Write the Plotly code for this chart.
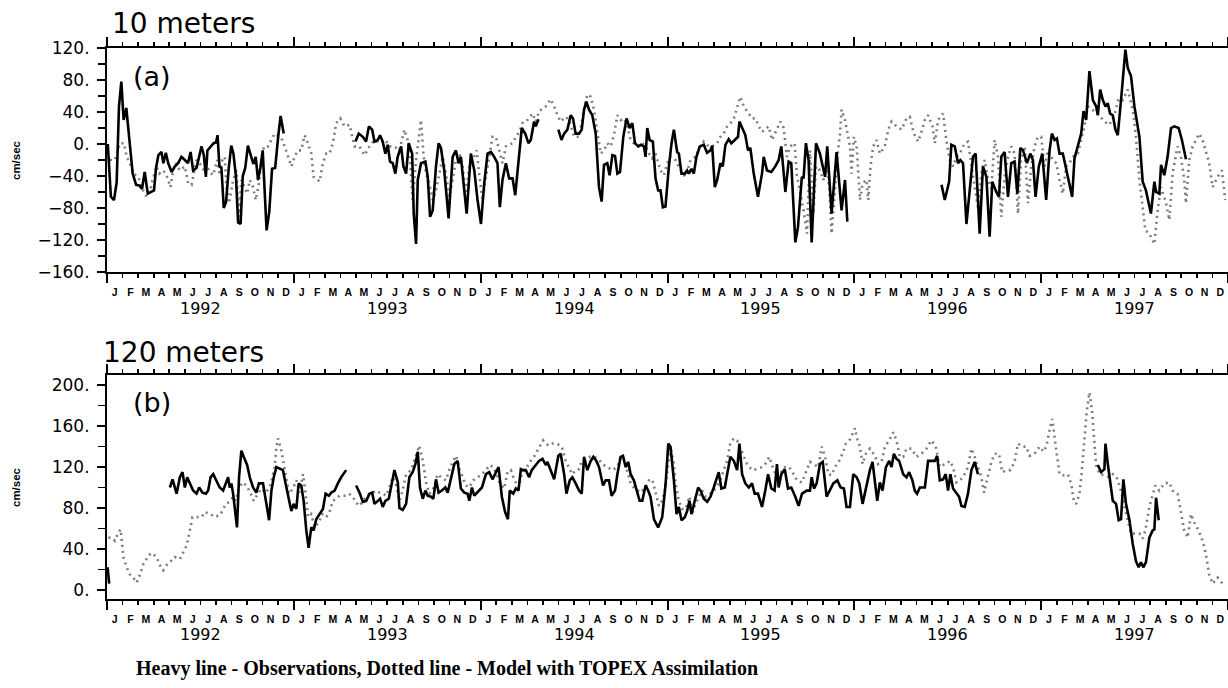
import plotly.graph_objects as go

# ---------------- data (time in months since 1 Jan 1992) ----------------
months = ["J", "F", "M", "A", "M", "J", "J", "A", "S", "O", "N", "D"]
years = ["1992", "1993", "1994", "1995", "1996", "1997"]

# Panel (a) 10 m, observations (heavy line); None = gap
obsA_t = [0.05,0.25,0.45,0.62,0.77,0.92,1.07,1.24,1.45,1.65,1.87,2.08,2.25,2.42,2.62,2.85,3.02,3.15,3.3,3.5,3.62,3.78,3.93,4.15,4.36,4.57,4.78,5.0,5.2,5.37,5.53,5.75,5.92,6.07,6.22,6.35,6.45,6.65,6.85,7.0,7.1,7.22,7.35,7.5,7.65,7.82,7.98,8.12,8.28,8.42,8.58,8.72,8.88,9.05,9.22,9.4,9.55,9.7,9.85,10.0,10.25,10.42,10.6,10.8,11.0,11.15,11.35,
          None,
          15.96,16.17,16.43,16.64,16.82,17.03,17.18,17.39,17.54,17.71,17.88,18.03,18.18,18.35,18.52,18.67,18.89,19.04,19.21,19.38,19.6,19.7,19.85,19.96,20.17,20.45,20.6,20.75,20.92,21.13,21.3,21.45,21.66,21.94,22.2,22.41,22.58,22.73,22.88,23.1,23.37,23.59,23.8,24.02,24.23,24.44,24.66,24.87,25.08,25.23,25.4,25.62,25.83,26.05,26.22,26.43,26.64,26.86,27.07,27.22,27.43,27.54,27.71,
          None,
          28.99,29.19,29.36,29.57,29.78,29.93,30.1,30.32,30.49,30.64,30.79,30.96,31.17,31.39,31.6,31.77,31.92,32.13,32.28,32.46,32.63,32.78,32.95,33.16,33.37,33.57,33.74,33.91,34.12,34.29,34.49,34.59,34.7,34.85,35.06,35.23,35.4,35.55,35.7,35.87,36.09,36.26,36.41,36.62,36.73,36.9,37.11,37.26,37.37,37.54,37.69,37.86,38.07,38.33,38.54,38.76,38.87,39.04,39.19,39.4,39.55,39.72,39.93,40.1,40.32,40.53,40.62,40.79,41.0,41.17,41.32,41.54,41.81,42.07,42.18,42.39,42.67,42.92,43.14,43.31,43.57,43.78,43.95,44.21,44.38,44.63,44.74,44.89,45.06,45.26,45.54,45.79,46.12,46.26,46.54,46.86,47.18,47.4,47.55,
          None,
          53.6,53.81,54.09,54.23,54.45,54.66,54.81,54.98,55.2,55.41,55.62,55.79,56.05,56.26,56.48,56.69,56.86,57.12,57.29,57.44,57.65,57.87,58.08,58.29,58.47,58.66,58.83,59.09,59.3,59.47,59.64,59.85,60.07,60.32,60.54,60.69,60.86,61.01,61.18,61.39,61.71,61.99,62.14,62.35,62.57,62.72,62.89,63.1,63.32,63.53,63.64,63.79,63.96,64.13,64.28,64.43,64.6,64.77,64.92,65.13,65.41,65.56,65.77,65.99,66.31,66.52,66.73,67.05,67.27,67.38,67.59,67.7,67.91,68.12,68.34,68.55,68.83,69.04,69.3]
obsA_v = [0,-66,-70,-48,47,78,30,45,3,-37,-51,-52,-56,-35,-62,-60,-58,-30,-14,-10,-24,-11,-24,-35,-28,-24,-16,-20,-24,-10,-33,-30,-16,-3,-14,-41,-8,-3,1,2,11,-28,-30,-80,-72,-30,-2,-12,-40,-98,-100,-40,-30,-2,-12,-25,-16,-45,-30,-8,-108,-85,-31,-30,10,35,13,
          None,
          3,13,9,3,22,18,3,5,11,3,-12,-1,-22,-24,-37,-16,-3,-28,-37,1,-12,-87,-125,-45,-24,-22,-41,-91,-83,-28,1,-5,-33,-93,-16,-8,-24,-16,-45,-87,-12,-33,-70,-100,-49,-12,-10,-16,-24,-79,-45,-24,-43,-43,-64,-20,20,13,1,5,28,22,31,
          None,
          18,5,13,18,36,32,13,13,18,43,53,43,36,13,-54,-72,-26,-24,-39,-14,-15,-37,-35,9,32,20,26,1,-3,-1,-3,-16,20,5,3,-43,-58,-58,-79,-78,-28,1,18,-10,-12,-37,-37,-33,-37,-31,-37,-16,-3,-1,-11,-8,-2,-54,-45,-24,-28,-1,6,1,5,9,28,20,11,-8,-5,-37,-66,-37,-16,-33,-35,-28,-20,-3,-60,-22,-24,-123,-104,-41,-43,1,-20,-123,1,-12,-41,-3,-87,-10,-83,-45,-97,
          None,
          -51,-70,-47,-1,-3,-24,-20,-24,-100,-62,-16,-12,-112,-28,-41,-116,-47,-60,-66,-16,-10,-66,-24,-22,-62,-5,-8,-24,-12,-20,-66,-28,-12,-70,-8,13,5,7,-12,-12,-41,-66,-18,-3,13,41,30,91,55,47,36,68,55,47,51,38,36,18,11,55,118,95,85,47,9,-47,-58,-87,-47,-60,-62,-26,-39,-16,20,22,20,5,-19]

# Panel (a) 10 m, model with TOPEX assimilation (dotted line)
modA_t = [0.19,0.51,0.83,1.09,1.26,1.47,1.69,2.01,2.22,2.54,2.76,2.93,3.18,3.35,3.61,3.82,4.08,4.25,4.42,4.68,5.0,5.21,5.43,5.75,5.96,6.22,6.39,6.6,6.82,7.07,7.24,7.41,7.56,7.67,7.84,8.1,8.31,8.48,8.63,8.85,9.0,9.17,9.38,9.55,9.76,9.91,10.08,10.34,10.55,10.77,11.09,11.26,11.41,11.62,11.84,12.05,12.26,12.48,12.69,12.9,13.12,13.27,13.44,13.65,13.87,14.08,14.29,14.51,14.72,14.98,15.26,15.58,15.9,16.22,16.54,16.86,17.18,17.5,17.88,18.14,18.46,18.78,19.1,19.31,19.46,19.63,19.85,20.06,20.17,20.32,20.49,20.7,20.92,21.13,21.34,21.56,21.77,21.98,22.2,22.41,22.63,22.84,23.05,23.27,23.48,23.74,23.91,24.12,24.34,24.55,24.76,24.98,25.19,25.4,25.62,25.83,26.05,26.26,26.47,26.73,27.01,27.33,27.54,27.75,28.18,28.5,28.72,28.93,29.14,29.46,29.68,30.0,30.32,30.64,30.85,31.07,31.28,31.49,31.71,31.92,32.13,32.35,32.56,32.78,32.99,33.2,33.42,33.63,33.84,34.12,34.38,34.59,34.81,35.02,35.23,35.55,35.77,35.98,36.19,36.51,36.84,37.16,37.48,37.8,38.12,38.33,38.65,38.87,39.19,39.4,39.61,39.83,40.04,40.26,40.47,40.68,40.9,41.22,41.43,41.64,41.86,42.07,42.28,42.5,42.71,43.03,43.25,43.46,43.67,43.89,44.16,44.31,44.53,44.74,44.96,45.15,45.37,45.54,45.79,46.01,46.22,46.39,46.54,46.69,46.91,47.08,47.18,47.4,47.55,47.72,47.82,47.97,48.15,48.36,48.53,48.79,48.89,49.04,49.21,49.43,49.64,49.96,50.18,50.39,50.71,51.03,51.35,51.56,51.82,52.1,52.31,52.53,52.74,53.02,53.17,53.38,53.59,53.7,53.91,54.13,54.34,54.56,54.77,55.09,55.3,55.52,55.73,55.94,56.16,56.37,56.59,56.8,57.01,57.23,57.44,57.65,57.87,58.08,58.29,58.51,58.72,58.94,59.15,59.36,59.58,59.79,60.0,60.22,60.43,60.75,60.97,61.18,61.39,61.61,61.82,62.03,62.35,62.57,62.78,63.0,63.27,63.53,63.74,64.06,64.38,64.7,64.98,65.24,65.56,65.88,66.09,66.31,66.52,66.69,66.95,67.27,67.48,67.7,68.02,68.23,68.44,68.76,68.98,69.19,69.3,69.51,69.73,69.94,70.15,70.37,70.58,70.79,71.01,71.33,71.61,71.82]
modA_v = [-20,-20,1,1,-16,-24,-37,-41,-54,-66,-60,-45,-28,-37,-33,-39,-54,-33,-24,-33,-28,-49,-51,-20,-24,-33,-26,-35,-39,-20,-39,-20,-16,-54,-74,-45,-33,-91,-45,-54,-62,-45,-54,-70,-49,-20,-3,-3,5,13,9,5,-3,-16,-28,-16,-8,-8,11,1,-12,-41,-43,-47,-24,-12,-12,1,26,32,22,24,-3,-3,-14,-3,5,1,5,-3,-3,-8,18,5,-20,-70,-20,13,30,-12,-37,-49,-70,-58,-37,-16,-37,-66,-45,-20,-12,-28,-66,-28,-20,-8,-39,-70,-41,-16,9,9,-8,-24,-3,-1,1,9,15,28,30,38,28,41,47,56,47,36,28,34,30,9,9,43,62,59,43,15,-12,-8,1,-3,11,36,30,32,22,5,1,-3,1,-3,-12,-18,-12,-33,-39,-24,-16,-20,-33,-41,-20,-16,-3,3,-3,-3,1,9,13,22,26,32,47,59,47,38,32,32,22,15,18,22,5,18,28,20,-16,-3,1,-39,-62,-83,-112,-8,-87,-28,-33,-45,-28,-54,-112,-70,-16,13,43,30,13,-3,-37,9,-3,-70,-49,-45,-70,-28,-3,5,-12,-3,18,28,22,18,32,34,13,3,15,30,36,22,1,30,36,38,5,-20,-28,-16,-12,1,3,-28,-54,-79,-37,-20,-45,-56,5,-16,-91,-41,-16,-3,-12,-87,-16,-3,-74,-28,-3,9,9,-28,-8,-20,-24,-45,-62,-28,-24,-16,-12,5,22,47,43,38,36,28,24,36,57,55,68,43,9,-45,-79,-108,-112,-125,-83,-54,-74,-95,-37,-3,-16,-45,-74,-20,-3,5,13,5,-8,-24,-54,-41,-33,-70]

# Panel (b) 120 m, observations (heavy line)
obsB_t = [0.04,0.14,
          None,
          4.04,4.21,4.47,4.68,4.85,5.0,5.15,5.32,5.53,5.75,5.92,6.13,6.35,6.5,6.65,6.82,7.03,7.24,7.46,7.63,7.78,7.88,7.99,8.1,8.27,8.35,8.48,8.63,8.78,9.0,9.17,9.38,9.59,9.76,10.02,10.19,10.41,10.56,10.71,10.88,11.13,11.3,11.47,11.65,11.84,11.99,12.16,12.31,12.48,12.63,12.8,12.95,13.12,13.27,13.44,13.65,13.87,14.04,14.25,14.4,14.62,14.83,15.04,15.36,
          None,
          16.0,16.22,16.43,16.65,16.86,17.03,17.18,17.39,17.54,17.71,17.88,18.1,18.31,18.46,18.68,18.78,18.99,19.21,19.42,19.63,19.81,19.96,20.1,20.28,20.45,20.6,20.81,20.96,21.13,21.3,21.51,21.73,21.88,22.09,22.31,22.52,22.73,22.95,23.16,23.27,23.44,23.59,23.91,24.08,24.34,24.55,24.76,24.98,25.15,25.36,25.57,25.75,25.87,26.09,26.26,26.43,26.58,26.73,26.9,27.11,27.28,27.54,27.75,27.97,28.18,28.29,28.5,28.72,28.99,29.14,29.36,29.51,29.72,29.89,30.1,30.32,30.49,30.64,30.85,31.07,31.24,31.43,31.6,31.86,32.03,32.24,32.41,32.63,32.78,32.99,33.14,33.31,33.48,33.63,33.84,34.06,34.21,34.38,34.59,34.76,34.91,35.13,35.4,35.66,35.87,36.05,36.19,36.41,36.58,36.73,36.9,37.11,37.26,37.41,37.54,37.75,37.97,38.12,38.33,38.55,38.76,38.97,39.19,39.29,39.46,39.68,39.83,40.04,40.26,40.47,40.62,40.79,41.0,41.22,41.43,41.6,41.81,42.07,42.28,42.46,42.67,42.88,43.03,43.14,43.31,43.53,43.74,43.95,44.21,44.42,44.64,44.94,45.15,45.26,45.41,45.58,45.79,45.97,46.22,46.44,46.65,46.91,47.12,47.33,47.5,47.72,47.93,48.15,48.32,48.53,48.74,49.0,49.17,49.32,49.47,49.64,49.81,50.03,50.24,50.39,50.54,50.71,50.88,51.14,51.35,51.52,51.73,51.88,52.03,52.21,52.53,52.74,52.95,53.17,53.32,53.49,53.7,53.87,54.02,54.17,54.34,54.56,54.73,54.88,55.09,55.3,55.52,55.73,55.94,
          None,
          63.64,63.85,64.06,64.13,64.28,64.43,64.6,64.81,64.98,65.13,65.28,65.45,65.67,65.88,66.09,66.26,66.41,66.56,66.73,66.95,67.16,67.27,67.38,67.55]
obsB_v = [22,6,
          None,
          100,108,94,110,115,100,110,104,97,94,100,95,94,97,110,113,107,100,97,105,110,100,104,94,71,61,110,136,130,122,110,100,95,104,104,87,68,97,110,120,118,117,104,91,77,84,79,104,102,87,58,41,61,58,69,74,79,94,92,95,97,104,110,117,
          None,
          102,95,86,87,94,95,84,87,89,81,87,89,107,117,105,80,78,84,110,115,123,135,100,89,97,92,91,89,108,95,97,100,95,110,123,126,99,95,94,87,100,92,97,100,113,115,108,115,120,91,76,69,97,94,99,97,118,117,117,110,117,122,126,128,122,125,117,108,131,133,113,94,107,110,104,97,94,130,117,126,130,126,120,102,107,107,92,97,113,130,131,120,125,113,107,94,87,87,102,97,91,69,61,71,102,143,140,107,74,81,68,71,77,87,74,87,100,97,89,86,91,100,112,115,99,100,113,130,126,117,143,113,104,100,104,94,94,81,97,113,99,97,123,100,113,118,99,100,91,82,94,97,97,110,99,104,123,125,91,97,104,107,100,99,81,81,113,110,104,84,100,117,125,107,87,105,97,120,126,120,133,128,126,113,110,115,107,97,94,100,100,126,126,126,131,107,108,113,97,113,99,95,91,82,81,94,117,125,113,
          None,
          122,115,118,143,123,104,87,84,68,69,108,84,68,45,28,22,27,22,27,51,58,59,90,68]

# Panel (b) 120 m, model with TOPEX assimilation (dotted line)
modB_t = [0.09,0.3,0.51,0.73,0.88,1.05,1.26,1.47,1.69,1.9,2.12,2.33,2.65,2.86,3.18,3.4,3.61,3.82,4.04,4.36,4.68,4.94,5.11,5.28,5.49,5.79,6.07,6.28,6.65,6.92,7.24,7.41,7.63,7.88,8.1,8.27,8.48,8.7,8.95,9.21,9.42,9.7,9.91,10.19,10.45,10.66,10.77,10.88,10.98,11.2,11.35,11.52,11.69,11.94,12.16,12.37,12.59,12.76,12.91,13.12,13.33,13.61,13.82,14.08,14.29,14.51,14.72,14.94,15.26,15.53,15.79,16.0,16.22,16.43,16.65,16.86,17.07,17.29,17.5,17.71,17.93,18.14,18.35,18.53,18.78,18.99,19.21,19.53,19.81,20.06,20.28,20.49,20.7,20.92,21.24,21.45,21.77,21.98,22.2,22.41,22.67,22.88,23.05,23.27,23.52,23.8,24.02,24.34,24.59,24.81,25.02,25.23,25.51,25.72,25.94,26.15,26.43,26.64,26.9,27.16,27.43,27.71,28.01,28.35,28.61,28.87,29.21,29.46,29.68,29.89,30.1,30.32,30.49,30.75,31.0,31.28,31.56,31.81,32.13,32.46,32.78,32.99,33.2,33.42,33.63,33.84,34.06,34.27,34.59,34.81,35.02,35.23,35.45,35.66,35.87,36.05,36.19,36.41,36.51,36.73,36.94,37.16,37.41,37.58,37.8,38.01,38.22,38.44,38.76,39.08,39.4,39.61,39.83,40.04,40.26,40.47,40.68,40.9,41.11,41.43,41.75,42.07,42.28,42.54,42.82,43.14,43.35,43.57,43.82,44.1,44.31,44.63,44.94,45.15,45.37,45.69,45.9,46.12,46.33,46.54,46.76,47.03,47.29,47.46,47.72,48.04,48.15,48.36,48.53,48.74,49.0,49.32,49.53,49.75,49.96,50.24,50.5,50.71,50.92,51.14,51.35,51.67,51.99,52.31,52.63,52.95,53.23,53.49,53.7,53.91,54.13,54.34,54.56,54.77,54.98,55.3,55.52,55.73,55.94,56.16,56.33,56.59,56.8,57.01,57.29,57.5,57.76,58.02,58.29,58.51,58.79,59.04,59.26,59.58,59.9,60.15,60.33,60.54,60.71,60.86,61.01,61.18,61.39,61.71,61.92,62.1,62.25,62.46,62.59,62.78,62.93,63.1,63.27,63.36,63.53,63.74,64.06,64.38,64.6,64.85,65.07,65.28,65.5,65.77,66.09,66.31,66.52,66.69,66.95,67.16,67.33,67.59,67.91,68.23,68.44,68.76,68.98,69.19,69.41,69.62,69.83,70.11,70.37,70.58,70.79,71.01,71.33,71.65]
modB_v = [51,51,48,56,59,32,22,15,12,7,15,25,33,36,32,24,19,24,27,32,30,37,43,55,71,71,71,76,74,71,73,77,84,86,91,87,100,105,102,95,87,94,99,95,100,113,120,140,148,136,123,107,94,99,107,95,113,94,71,74,61,66,74,71,76,87,89,92,92,94,91,85,82,87,91,94,95,97,95,94,92,100,110,105,87,97,113,117,130,141,126,105,94,97,113,110,107,117,125,131,117,108,102,100,107,110,112,117,122,120,113,104,99,115,117,108,100,113,118,125,130,138,146,141,143,143,140,126,120,113,117,118,126,128,130,130,128,123,120,117,120,130,128,117,104,100,97,95,100,107,108,94,82,87,100,123,140,123,104,87,79,79,91,74,84,91,97,91,94,99,107,117,126,144,148,146,138,130,123,117,118,120,123,130,117,107,117,120,120,113,107,105,117,125,123,120,140,130,113,112,120,126,135,143,147,158,149,140,123,133,138,131,123,125,140,146,154,146,130,130,138,138,130,133,138,146,140,120,122,123,126,120,105,107,110,120,138,130,120,110,95,110,125,133,133,115,117,117,125,143,140,140,131,133,140,135,140,156,167,149,130,113,112,113,104,87,84,94,112,146,175,193,175,156,122,113,112,110,113,110,100,87,71,55,55,55,50,58,81,94,102,97,104,105,97,94,76,58,51,74,66,58,48,35,15,6,12,6]

# ---------------- figure ----------------
FONT = "DejaVu Sans"
W, H = 1228, 688
X0 = 107 / W
A_DOM = [1 - 272 / H, 1 - 48 / H]
B_DOM = [1 - 599 / H, 1 - 375 / H]

def py(px):
    return 1 - px / H

heavy = dict(color="black", width=2.6)
dotted = dict(color="#7c7c7c", width=2.6, dash="2px,4px")

fig = go.Figure()
fig.add_trace(go.Scatter(x=modA_t, y=modA_v, mode="lines", line=dotted, xaxis="x", yaxis="y", showlegend=False))
fig.add_trace(go.Scatter(x=obsA_t, y=obsA_v, mode="lines", line=heavy, xaxis="x", yaxis="y", showlegend=False))
fig.add_trace(go.Scatter(x=modB_t, y=modB_v, mode="lines", line=dotted, xaxis="x2", yaxis="y2", showlegend=False))
fig.add_trace(go.Scatter(x=obsB_t, y=obsB_v, mode="lines", line=heavy, xaxis="x2", yaxis="y2", showlegend=False))
# empty traces so that the tick-only overlay axes get drawn
fig.add_trace(go.Scatter(x=[], y=[], xaxis="x3", yaxis="y", showlegend=False, hoverinfo="skip"))
fig.add_trace(go.Scatter(x=[], y=[], xaxis="x4", yaxis="y2", showlegend=False, hoverinfo="skip"))

n_months = 12 * len(years)
mid_vals = [i + 0.5 for i in range(n_months)]
mid_text = months * len(years)
year_ticks = list(range(0, n_months + 1, 12))
month_ticks = list(range(0, n_months + 1))
XR = [0, n_months]

def label_axis(anchor):
    return dict(domain=[X0, 1], anchor=anchor, range=XR, tickmode="array",
                tickvals=mid_vals, ticktext=mid_text, ticks="",
                tickfont=dict(family="Liberation Sans", size=10.5, color="black", weight="bold"),
                ticklabelstandoff=9, showline=True, linecolor="black", linewidth=2,
                mirror=True, showgrid=False, zeroline=False, fixedrange=True, automargin=False)

def tick_axis(over, anchor):
    return dict(overlaying=over, anchor=anchor, range=XR, tickmode="array",
                tickvals=year_ticks, ticks="outside", ticklen=10, tickwidth=2,
                tickcolor="black", showticklabels=False, showline=False,
                mirror="ticks", showgrid=False, zeroline=False, automargin=False,
                minor=dict(tickmode="array", tickvals=month_ticks, ticks="outside",
                           ticklen=5, tickwidth=1.6, tickcolor="black", showgrid=False))

def yfmt(v):
    s = str(abs(v)) + "."
    return ("\u2212" + s) if v < 0 else s

ya_major = list(range(-160, 121, 40))
ya_minor = list(range(-160, 121, 20))
yb_major = list(range(0, 201, 40))
yb_minor = list(range(0, 201, 20))

def y_axis(dom, rng, major, minor, anchor):
    return dict(domain=dom, range=rng, anchor=anchor,
                tickmode="array", tickvals=major, ticktext=[yfmt(v) for v in major],
                ticks="outside", ticklen=8, tickwidth=2, tickcolor="black",
                tickfont=dict(family=FONT, size=17, color="black"),
                ticklabelstandoff=4,
                minor=dict(tickmode="array", tickvals=minor, ticks="outside",
                           ticklen=7, tickwidth=1.6, tickcolor="black", showgrid=False),
                showline=True, linecolor="black", linewidth=2, mirror=False,
                showgrid=False, zeroline=False, fixedrange=True, automargin=False)

fig.update_layout(
    width=W, height=H, margin=dict(l=0, r=0, t=0, b=0, autoexpand=False),
    paper_bgcolor="white", plot_bgcolor="white", showlegend=False,
    xaxis=label_axis("y"),
    xaxis2=label_axis("y2"),
    xaxis3=tick_axis("x", "y"),
    xaxis4=tick_axis("x2", "y2"),
    yaxis=y_axis(A_DOM, [-160, 120], ya_major, ya_minor, "x"),
    yaxis2=y_axis(B_DOM, [-9, 210], yb_major, yb_minor, "x2"),
)

ann = []
def text(x, y, s, size, family=FONT, xanchor="left", weight="normal", angle=0, xref="paper"):
    ann.append(dict(x=x, y=y, xref=xref, yref="paper", text=s, showarrow=False,
                    xanchor=xanchor, yanchor="middle", textangle=angle,
                    font=dict(family=family, size=size, color="black", weight=weight)))

text(110 / W, py(24), "10 meters", 28)
text(131 / W, py(77), "(a)", 27)
text(101 / W, py(352), "120 meters", 28)
text(131 / W, py(402), "(b)", 27)
for py_c in (160, 487):
    text(16 / W, py(py_c), "cm/sec", 11.5, family="Liberation Sans", xanchor="center",
         weight="bold", angle=-90)
for k, yr in enumerate(years):
    ann.append(dict(x=12 * k + 6, y=py(308), xref="x", yref="paper", text=yr, showarrow=False,
                    xanchor="center", yanchor="middle", font=dict(family=FONT, size=16, color="black")))
    ann.append(dict(x=12 * k + 6, y=py(634), xref="x2", yref="paper", text=yr, showarrow=False,
                    xanchor="center", yanchor="middle", font=dict(family=FONT, size=16, color="black")))
text(134 / W, py(668), "Heavy line - Observations, Dotted line - Model with TOPEX Assimilation", 20,
     family="Liberation Serif", weight="bold")
fig.update_layout(annotations=ann)

# remove the browser's default page margin so the figure sits at the window's top-left corner
fig.write_html("out.html", config={"displayModeBar": False, "staticPlot": True},
               post_script="document.body.style.margin='0px';")
